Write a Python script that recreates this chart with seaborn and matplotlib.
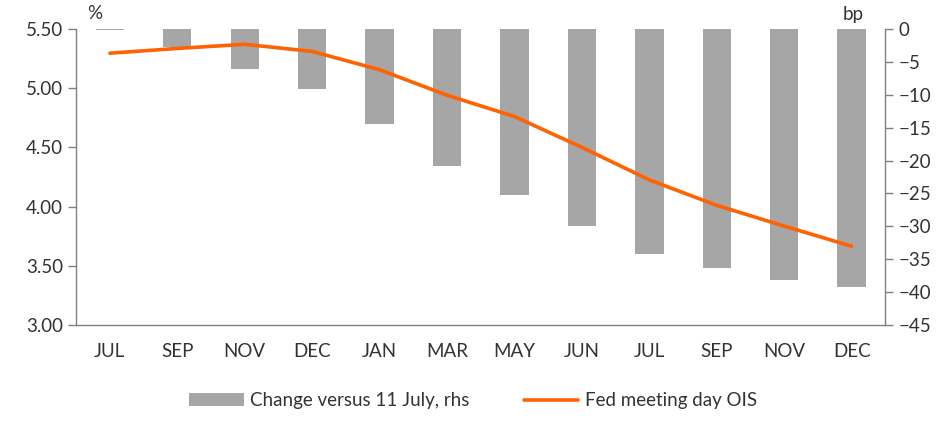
import numpy as np
import pandas as pd
import seaborn as sns
import matplotlib.pyplot as plt
from matplotlib.patches import Patch
from matplotlib.lines import Line2D

# Fed meeting months (two years) and values
months = ["JUL", "SEP", "NOV", "DEC", "JAN", "MAR", "MAY", "JUN", "JUL", "SEP", "NOV", "DEC"]
ois = [5.295, 5.335, 5.37, 5.31, 5.155, 4.94, 4.76, 4.50, 4.225, 4.01, 3.835, 3.665]
change_bp = [-0.2, -2.7, -6.1, -9.1, -14.4, -20.8, -25.2, -29.9, -34.2, -36.4, -38.1, -39.3]

df = pd.DataFrame({"pos": np.arange(len(months)), "ois": ois, "chg": change_bp})

sns.set_theme(style="white")
plt.rcParams["font.family"] = ["Lato", "DejaVu Sans"]

orange = "#ff6200"
grey = "#a6a6a6"
spine_col = "#808080"
fs = 13.5

fig, ax = plt.subplots(figsize=(9.52, 4.38), dpi=100)
fig.subplots_adjust(left=0.08, right=0.93, top=0.934, bottom=0.258)
ax2 = ax.twinx()

sns.barplot(data=df, x="pos", y="chg", ax=ax2, color=grey, width=0.42,
            saturation=1, edgecolor="none")
sns.lineplot(data=df, x="pos", y="ois", ax=ax, color=orange, linewidth=2.6)

# line on top of bars
ax.set_zorder(ax2.get_zorder() + 1)
ax.patch.set_visible(False)

ax.set_xlim(-0.5, len(months) - 0.5)
ax.set_ylim(3.0, 5.5)
ax.set_yticks(np.arange(3.0, 5.51, 0.5))
ax.set_yticklabels([f"{v:.2f}" for v in np.arange(3.0, 5.51, 0.5)])
ax2.set_ylim(-45, 0)
ax2.set_yticks(np.arange(-45, 1, 5))

ax.set_xticks(np.arange(len(months)))
ax.set_xticklabels(months)
ax.set_xticks(np.arange(-0.5, len(months), 1), minor=True)
ax.tick_params(axis="x", which="major", length=0, pad=13, labelsize=fs, colors="#333333")
ax.tick_params(axis="x", which="minor", length=6, width=1, color=spine_col, direction="out")
ax.tick_params(axis="y", length=6, width=1, color=spine_col, direction="out", labelsize=fs,
               labelcolor="#333333", left=True)
ax2.tick_params(axis="y", length=6, width=1, color=spine_col, direction="out", labelsize=fs,
                labelcolor="#333333", right=True)

for a in (ax, ax2):
    a.set_xlabel("")
    a.set_ylabel("")
    a.spines["top"].set_visible(False)
    for s in ("left", "right", "bottom"):
        a.spines[s].set_color(spine_col)
        a.spines[s].set_linewidth(1)
ax.spines["right"].set_visible(False)
ax2.spines["left"].set_visible(False)
ax2.spines["bottom"].set_visible(False)
ax2.set_xlabel("")

fig.text(0.092, 0.97, "%", fontsize=fs, color="#333333", ha="left", va="center")
fig.text(0.896, 0.967, "bp", fontsize=fs, color="#333333", ha="center", va="center")

handles = [Patch(facecolor=grey, edgecolor="none"),
           Line2D([0], [0], color=orange, linewidth=2.6)]
labels = ["Change versus 11 July, rhs", "Fed meeting day OIS"]
fig.legend(handles, labels, loc="center", bbox_to_anchor=(0.497, 0.085), ncol=2,
           frameon=False, fontsize=fs, handlelength=2.9, columnspacing=2.9,
           handletextpad=0.35, labelcolor="#333333")

fig.savefig("out.png", dpi=100)
